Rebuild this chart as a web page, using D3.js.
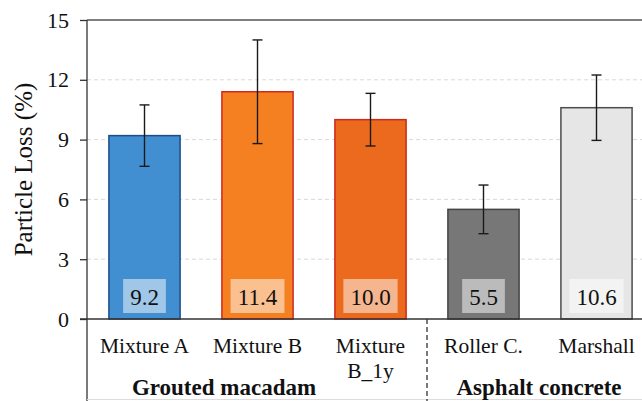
<!DOCTYPE html>
<html>
<head>
<meta charset="utf-8">
<script src="https://cdn.jsdelivr.net/npm/d3@7"></script>
<style>
  html, body { margin: 0; padding: 0; background: #fff; }
  svg, svg text { font-family: "Liberation Serif", "Times New Roman", Times, serif !important; }
</style>
</head>
<body>
<div id="chart"></div>
<script>
// ---- data ----
const categories = ["Mixture A", "Mixture B", "Mixture B_1y", "Roller C.", "Marshall"];
const categoryLines = [["Mixture A"], ["Mixture B"], ["Mixture", "B_1y"], ["Roller C."], ["Marshall"]];
const values = [9.2, 11.4, 10.0, 5.5, 10.6];
const errors = [1.54, 2.6, 1.32, 1.22, 1.64];
const valueLabels = ["9.2", "11.4", "10.0", "5.5", "10.6"];
const fills = ["#418fd0", "#f58021", "#eb6a1d", "#777777", "#e6e6e6"];
const strokes = ["#1b4d87", "#cf2a1f", "#cc2a1c", "#444444", "#4d4d4d"];
const groups = ["Grouted macadam", "Asphalt concrete"];
const yTicks = [0, 3, 6, 9, 12, 15];
const yTitle = "Particle Loss (%)";

// ---- layout ----
const W = 642, H = 401;
const FONT = "'Liberation Serif', 'Times New Roman', Times, serif";
const svg = d3.select("#chart").append("svg").attr("width", W).attr("height", H)
  .attr("font-family", FONT);

const x = d3.scaleBand().domain(categories).range([88, 653]).paddingInner(0.37).paddingOuter(0.185);
const y = d3.scaleLinear().domain([0, 15]).range([319, 20]);
const x0 = 87;

// gridlines
svg.append("g").selectAll("line").data(yTicks.filter(t => t > 0 && t < 15)).join("line")
  .attr("x1", x0).attr("x2", W).attr("y1", d => y(d)).attr("y2", d => y(d))
  .attr("stroke", "#d9d9d9").attr("stroke-width", 1).attr("stroke-dasharray", "4,3");

// top frame
svg.append("line").attr("x1", x0).attr("x2", W).attr("y1", y(15)).attr("y2", y(15))
  .attr("stroke", "#555").attr("stroke-width", 1.5);

// bars
svg.append("g").selectAll("rect").data(categories).join("rect")
  .attr("x", d => x(d)).attr("width", x.bandwidth())
  .attr("y", (d, i) => y(values[i])).attr("height", (d, i) => y(0) - y(values[i]))
  .attr("fill", (d, i) => fills[i]).attr("stroke", (d, i) => strokes[i]).attr("stroke-width", 1.5);

// error bars
const eb = svg.append("g").attr("stroke", "#1a1a1a").attr("stroke-width", 1.4);
categories.forEach((c, i) => {
  const cx = x(c) + x.bandwidth() / 2;
  const hi = y(values[i] + errors[i]), lo = y(values[i] - errors[i]);
  eb.append("line").attr("x1", cx).attr("x2", cx).attr("y1", hi).attr("y2", lo);
  eb.append("line").attr("x1", cx - 5).attr("x2", cx + 5).attr("y1", hi).attr("y2", hi);
  eb.append("line").attr("x1", cx - 5).attr("x2", cx + 5).attr("y1", lo).attr("y2", lo);
});

// value labels with boxes
const vl = svg.append("g");
categories.forEach((c, i) => {
  const cx = x(c) + x.bandwidth() / 2;
  const g = vl.append("g");
  const t = g.append("text").attr("x", cx).attr("y", y(0) - 14).attr("text-anchor", "middle")
    .attr("font-family", FONT).attr("font-size", 23).attr("fill", "#111").text(valueLabels[i]);
  const bb = t.node().getBBox();
  g.insert("rect", "text").attr("x", cx - bb.width / 2 - 7).attr("width", bb.width + 14)
    .attr("y", y(0) - 40).attr("height", 34).attr("fill", "#fff").attr("fill-opacity", 0.5);
});

// y axis
const yAxis = d3.axisLeft(y).tickValues(yTicks).tickSize(7).tickPadding(11).tickFormat(d3.format("d"));
const ya = svg.append("g").attr("transform", `translate(${x0},0)`).call(yAxis)
  .attr("font-family", FONT).attr("font-size", 22);
ya.select(".domain").remove();
ya.selectAll(".tick line").attr("stroke", "#333").attr("stroke-width", 1.3);
ya.selectAll(".tick text").attr("font-size", 22).attr("fill", "#111").attr("font-family", FONT);
svg.append("line").attr("x1", x0).attr("x2", x0).attr("y1", y(15)).attr("y2", H)
  .attr("stroke", "#333").attr("stroke-width", 1.3);

// zero baseline
svg.append("line").attr("x1", x0 - 7).attr("x2", W).attr("y1", y(0)).attr("y2", y(0))
  .attr("stroke", "#333").attr("stroke-width", 1.5);

// bottom faint line
svg.append("line").attr("x1", x0).attr("x2", W).attr("y1", 399.5).attr("y2", 399.5)
  .attr("stroke", "#dcdcdc").attr("stroke-width", 1);

// category labels
const cl = svg.append("g");
categories.forEach((c, i) => {
  const cx = x(c) + x.bandwidth() / 2;
  const t = cl.append("text").attr("text-anchor", "middle").attr("font-family", FONT)
    .attr("font-size", 21.5).attr("fill", "#111");
  categoryLines[i].forEach((ln, k) => {
    t.append("tspan").attr("x", cx).attr("y", 353 + k * 25).text(ln);
  });
});

// separator
const sepX = (x("Mixture B_1y") + x.bandwidth() + x("Roller C.")) / 2;
svg.append("line").attr("x1", sepX).attr("x2", sepX).attr("y1", y(0)).attr("y2", H)
  .attr("stroke", "#333").attr("stroke-width", 1.3).attr("stroke-dasharray", "5,3");

// group labels
const groupCenters = [224, 539];
groups.forEach((g, i) => {
  svg.append("text").attr("x", groupCenters[i]).attr("y", 395).attr("text-anchor", "middle")
    .attr("font-family", FONT).attr("font-size", 23).attr("font-weight", "bold")
    .attr("fill", "#111").text(g);
});

// y title
svg.append("text").attr("transform", `translate(32,${(y(0) + y(15)) / 2}) rotate(-90)`)
  .attr("text-anchor", "middle").attr("font-family", FONT).attr("font-size", 25)
  .attr("fill", "#111").text(yTitle);
</script>
</body>
</html>
